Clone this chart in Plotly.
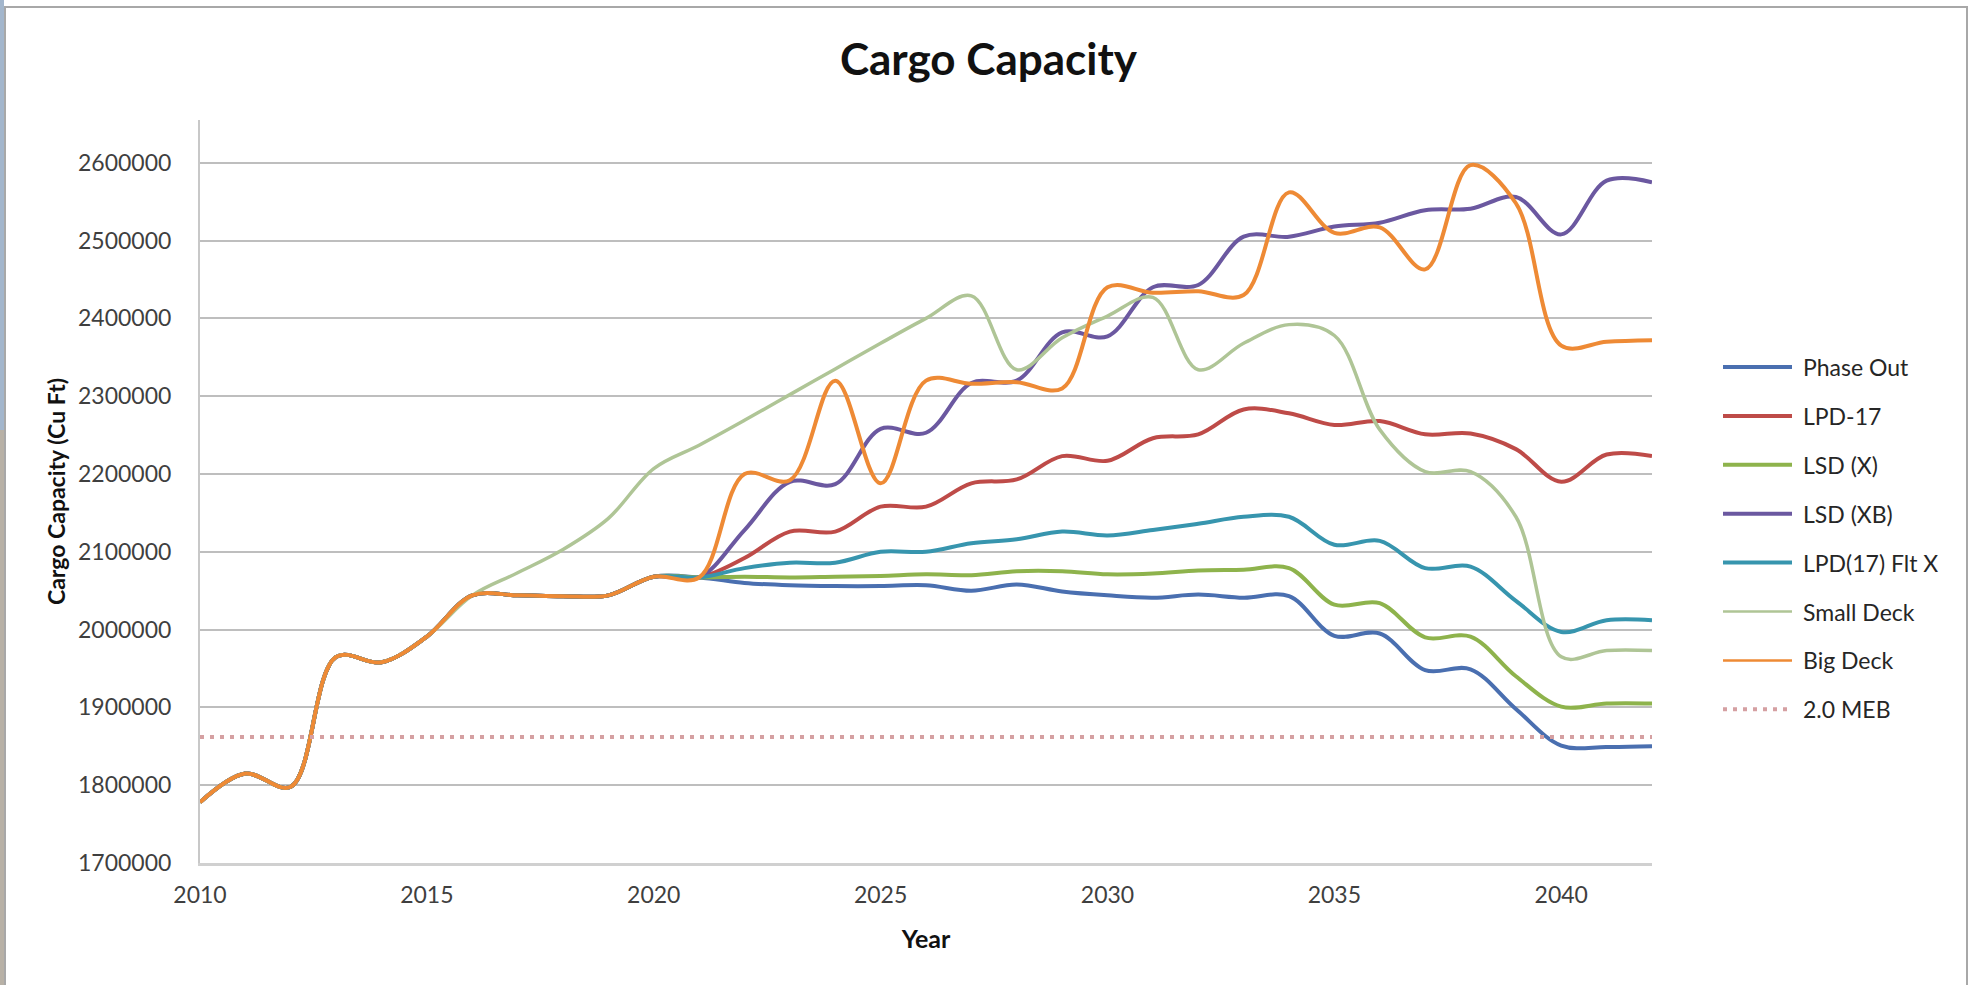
import plotly.graph_objects as go

# ---------------------------------------------------------------- data
years = list(range(2010, 2043))

# 2010-2016: identical for every alternative
history = [1778000, 1815000, 1798000, 1965000, 1958000, 1991000, 2044000]

# 2017-2021: shared by every alternative except Small Deck
baseline_2017_2021 = [2044000, 2043000, 2044000, 2068000, 2067000]

# 2022-2042 projections
phase_out = [2060000, 2057000, 2056000, 2056000, 2057000, 2050000, 2058000,
             2049000, 2044000, 2041000, 2045000, 2041000, 2043000, 1992000,
             1995000, 1948000, 1949000, 1898000, 1851000, 1849000, 1850000]
lpd_17 = [2092000, 2126000, 2126000, 2158000, 2158000, 2188000, 2193000,
          2223000, 2217000, 2246000, 2251000, 2283000, 2278000, 2263000,
          2268000, 2251000, 2252000, 2232000, 2190000, 2225000, 2223000]
lsd_x = [2068000, 2067000, 2068000, 2069000, 2071000, 2070000, 2075000,
         2075000, 2071000, 2072000, 2076000, 2077000, 2079000, 2032000,
         2034000, 1990000, 1991000, 1940000, 1901000, 1905000, 1905000]
lsd_xb = [2128000, 2190000, 2187000, 2258000, 2253000, 2317000, 2320000,
          2382000, 2377000, 2440000, 2443000, 2505000, 2505000, 2518000,
          2523000, 2539000, 2541000, 2556000, 2508000, 2577000, 2575000]
lpd17_flt_x = [2079000, 2086000, 2086000, 2100000, 2100000, 2111000, 2116000,
               2126000, 2121000, 2128000, 2136000, 2145000, 2145000, 2109000,
               2114000, 2079000, 2081000, 2037000, 1997000, 2012000, 2012000]
big_deck = [2200000, 2192000, 2320000, 2188000, 2320000, 2316000, 2318000,
            2310000, 2440000, 2433000, 2435000, 2430000, 2562000, 2510000,
            2517000, 2463000, 2597000, 2548000, 2365000, 2370000, 2372000]

# Small Deck departs from the baseline after 2016 (2017-2042)
small_deck = [2073000, 2103000, 2143000, 2207000, 2237000, 2269000, 2302000,
              2335000, 2368000, 2400000, 2429000, 2334000, 2375000, 2403000,
              2427000, 2334000, 2368000, 2392000, 2378000, 2257000, 2203000,
              2203000, 2145000, 1965000, 1973000, 1973000]

meb_level = 1862000  # 2.0 MEB requirement

series_names = ["Phase Out", "LPD-17", "LSD (X)", "LSD (XB)",
                "LPD(17) Flt X", "Small Deck", "Big Deck"]
series_values = [
    history + baseline_2017_2021 + phase_out,
    history + baseline_2017_2021 + lpd_17,
    history + baseline_2017_2021 + lsd_x,
    history + baseline_2017_2021 + lsd_xb,
    history + baseline_2017_2021 + lpd17_flt_x,
    history + small_deck,
    history + baseline_2017_2021 + big_deck,
]
meb_name = "2.0 MEB"

# ---------------------------------------------------------------- style
colors = ["#4A6FB0", "#BE4B48", "#8EB34C", "#6B58A0",
          "#3795AE", "#AFC596", "#EE8A35"]
line_widths = [4, 4, 4, 4, 4, 3.5, 4]
legend_widths = [4, 4, 4, 4, 4, 2.5, 2.5]
meb_color = "#D5A0A2"
meb_dash = "4px,6px"

FONT = "Lato"
W, H = 1977, 985
ML, MR, MT, MB = 200, 325, 120, 122
PW, PH = W - ML - MR, H - MT - MB


def paper_x(px):
    return (px - ML) / PW


def paper_y(py):
    return (H - MB - py) / PH


fig = go.Figure()

for name, vals, col, lw in zip(series_names, series_values, colors, line_widths):
    fig.add_trace(go.Scatter(
        x=years, y=vals, name=name, mode="lines",
        line=dict(color=col, width=lw, shape="spline", smoothing=1.0),
        showlegend=False,
    ))

fig.add_trace(go.Scatter(
    x=years, y=[meb_level] * len(years), name=meb_name, mode="lines",
    line=dict(color=meb_color, width=4, dash=meb_dash),
    showlegend=False,
))

# ---------------------------------------------------------------- legend
shapes = []
annotations = []
leg_x0, leg_x1, leg_text_x = 1723, 1792, 1801
leg_top, leg_step = 367, 48.9
legend_entries = list(zip(series_names, colors, legend_widths, [None] * 7))
legend_entries.append((meb_name, meb_color, 4, meb_dash))
for i, (name, col, lw, dash) in enumerate(legend_entries):
    yy = paper_y(leg_top + i * leg_step)
    line = dict(color=col, width=lw)
    if dash:
        line["dash"] = dash
    shapes.append(dict(type="line", xref="paper", yref="paper",
                       x0=paper_x(leg_x0), x1=paper_x(leg_x1), y0=yy, y1=yy,
                       line=line))
    annotations.append(dict(text=name, xref="paper", yref="paper",
                            x=paper_x(leg_text_x), y=yy, xanchor="left",
                            yanchor="middle", showarrow=False,
                            font=dict(family=FONT, size=23, color="#262626")))

# chart frame and the slide edge visible at the far left
shapes.append(dict(type="rect", xref="paper", yref="paper", layer="below",
                   x0=paper_x(0), x1=paper_x(4), y0=paper_y(430), y1=paper_y(0),
                   fillcolor="#A3B6CC", line=dict(width=0)))
shapes.append(dict(type="rect", xref="paper", yref="paper", layer="below",
                   x0=paper_x(0), x1=paper_x(4), y0=paper_y(H), y1=paper_y(430),
                   fillcolor="#B8B1A6", line=dict(width=0)))
shapes.append(dict(type="rect", xref="paper", yref="paper", layer="below",
                   x0=paper_x(5), x1=paper_x(1967), y0=paper_y(H + 10), y1=paper_y(7),
                   fillcolor="rgba(0,0,0,0)", line=dict(color="#A8A8A8", width=2)))

fig.update_layout(
    width=W, height=H, autosize=False,
    margin=dict(l=ML, r=MR, t=MT, b=MB),
    paper_bgcolor="white", plot_bgcolor="white",
    font=dict(family=FONT, color="#404040"),
    title=dict(text="Cargo Capacity", x=0.5, xref="container", xanchor="center",
               y=1 - 60 / H, yref="container", yanchor="middle",
               font=dict(family=FONT, size=44, color="#111111", weight="bold")),
    xaxis=dict(range=[2010, 2042], tick0=2010, dtick=5, showgrid=False,
               zeroline=False, showline=True, linecolor="#D0D0D0", linewidth=3,
               ticks="", ticklabelstandoff=9,
               tickfont=dict(family=FONT, size=23, color="#3F3F3F"),
               title=dict(text="Year", standoff=24,
                          font=dict(family=FONT, size=25, color="#111111",
                                    weight="bold"))),
    yaxis=dict(range=[1700000, 2655000], tick0=1700000, dtick=100000,
               tickformat="d", showgrid=True, gridcolor="#BEBEBE", gridwidth=2,
               zeroline=False, showline=True, linecolor="#C8C8C8", linewidth=2,
               ticks="", ticklabelstandoff=22,
               tickfont=dict(family=FONT, size=23, color="#3F3F3F"),
               title=dict(text="Cargo Capacity (Cu Ft)", standoff=6,
                          font=dict(family=FONT, size=23, color="#111111",
                                    weight="bold"))),
    shapes=shapes,
    annotations=annotations,
    showlegend=False,
)

fig.write_html("out.html")
